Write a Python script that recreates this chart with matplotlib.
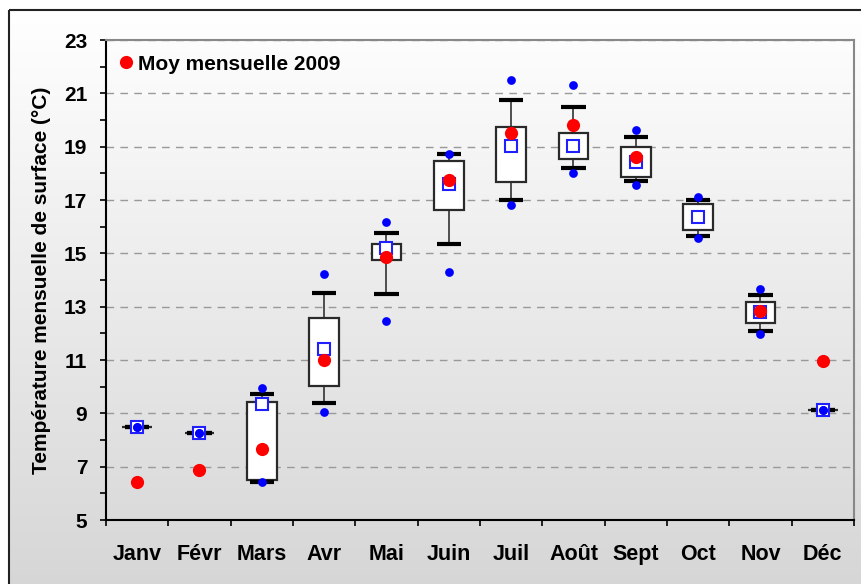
import numpy as np
import matplotlib
matplotlib.use('Agg')
import matplotlib.pyplot as plt
from matplotlib.patches import Rectangle
from matplotlib.colors import LinearSegmentedColormap
from matplotlib.ticker import MultipleLocator

plt.rcParams['font.family'] = ['Liberation Sans', 'DejaVu Sans']
plt.rcParams['font.weight'] = 'bold'

# monthly sea surface temperature stats (deg C)
months = ['Janv', 'Févr', 'Mars', 'Avr', 'Mai', 'Juin', 'Juil', 'Août', 'Sept', 'Oct', 'Nov', 'Déc']
t_min = [8.5, 8.25, 6.43, 9.04, 12.45, 14.3, 16.8, 18.0, 17.55, 15.58, 11.96, 9.14]
whisk_lo = [8.5, 8.25, 6.43, 9.39, 13.49, 15.34, 17.01, 18.2, 17.7, 15.66, 12.1, 9.14]
q1 = [8.5, 8.25, 6.5, 10.01, 14.75, 16.64, 17.67, 18.53, 17.87, 15.88, 12.38, 9.14]
q3 = [8.5, 8.25, 9.41, 12.57, 15.36, 18.47, 19.75, 19.5, 19.0, 16.84, 13.16, 9.14]
whisk_hi = [8.5, 8.25, 9.74, 13.5, 15.78, 18.74, 20.76, 20.48, 19.37, 17.0, 13.44, 9.14]
t_max = [8.5, 8.25, 9.94, 14.24, 16.16, 18.74, 21.51, 21.31, 19.64, 17.1, 13.65, 9.14]
t_mean = [8.5, 8.25, 9.34, 11.41, 15.2, 17.59, 19.03, 19.03, 18.42, 16.36, 12.79, 9.14]
moy_2009 = [6.43, 6.88, 7.65, 11.01, 14.87, 17.75, 19.52, 19.82, 18.62, np.nan, 12.85, 10.97]

W, H = 862, 584
fig = plt.figure(figsize=(W / 100, H / 100), dpi=100)

# background: gradient inside a frame
bg = fig.add_axes([0, 0, 1, 1], zorder=0)
bg.set_xlim(0, W)
bg.set_ylim(H, 0)
bg.axis('off')
grad = np.linspace(0, 1, 256)[:, None]
cmap = LinearSegmentedColormap.from_list('bg', ['#ffffff', '#d6d6d6'])
bg.imshow(grad, cmap=cmap, extent=(9, W + 5, H + 5, 10), aspect='auto')
bg.add_patch(Rectangle((9, 10), W, H, fill=False, ec='#222222', lw=1.5))

ax = fig.add_axes([106 / W, 1 - 520 / H, (854 - 106) / W, (520 - 40) / H], zorder=1)
ax.patch.set_visible(False)

x = np.arange(1, len(months) + 1)
q1 = np.array(q1)
q3 = np.array(q3)

ax.bar(x, q3 - q1, width=0.48, bottom=q1, color='white', edgecolor='#2a2a2a', lw=1.6, zorder=3)
ax.vlines(x, whisk_lo, q1, color='#333333', lw=1.2, zorder=2)
ax.vlines(x, q3, whisk_hi, color='#333333', lw=1.2, zorder=2)
ax.hlines(whisk_lo, x - 0.195, x + 0.195, color='black', lw=3, zorder=4)
ax.hlines(whisk_hi, x - 0.195, x + 0.195, color='black', lw=3, zorder=4)

ax.plot(x, t_mean, 's', ms=8.5, mfc='white', mec='#2020ff', mew=1.5, ls='none', zorder=5)
ax.plot(x, t_min, 'o', ms=6.3, color='#0000ff', mec='none', ls='none', zorder=6)
ax.plot(x, t_max, 'o', ms=6.3, color='#0000ff', mec='none', ls='none', zorder=6)
ax.plot(x, moy_2009, 'o', ms=9.5, color='#ff0000', mec='none', ls='none', zorder=7,
        label='Moy mensuelle 2009')

ax.legend(loc='upper left', bbox_to_anchor=(-0.007, 1.0), frameon=False, fontsize=15,
          handlelength=1.0, handletextpad=0.1, numpoints=1, borderaxespad=0.3)

ax.set_xlim(0.5, 12.5)
ax.set_ylim(5, 23)
ax.set_yticks(range(5, 24, 2))
ax.yaxis.set_minor_locator(MultipleLocator(1))
ax.yaxis.grid(True, which='major', ls=(0, (5.5, 4.5)), color='#999999', lw=1)
ax.set_axisbelow(True)

ax.set_xticks(x)
ax.set_xticklabels(months)
ax.set_xticks(np.arange(0.5, 13, 1), minor=True)

ax.tick_params(axis='y', which='both', direction='out', length=4.5, width=1.2, pad=9, labelsize=15)
ax.tick_params(axis='x', which='major', length=0, pad=17, labelsize=15.5)
ax.tick_params(axis='x', which='minor', direction='out', length=4.5, width=1.2)

for s in ['left', 'bottom']:
    ax.spines[s].set_color('black')
    ax.spines[s].set_linewidth(1.5)
for s in ['top', 'right']:
    ax.spines[s].set_color('#888888')
    ax.spines[s].set_linewidth(1.5)

ax.set_ylabel('Température mensuelle de surface (°C)', fontsize=15, fontweight='bold', labelpad=9)

fig.savefig('out.png', dpi=100)
